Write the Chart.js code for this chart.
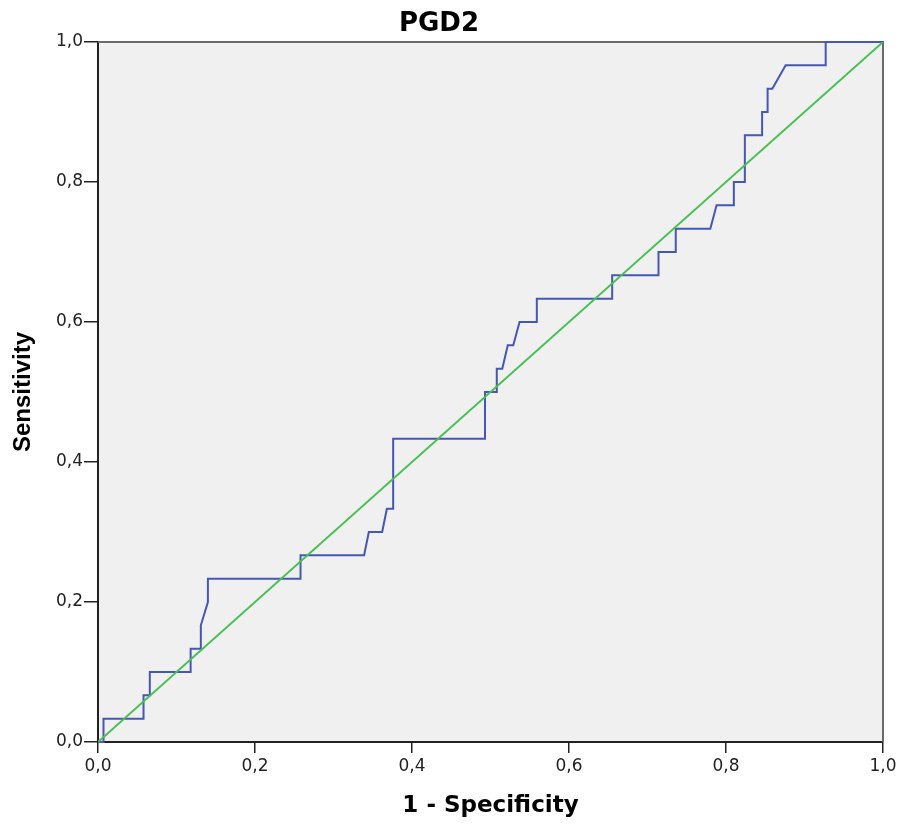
<!DOCTYPE html>
<html>
<head>
<meta charset="utf-8">
<title>PGD2</title>
<script src="https://cdn.jsdelivr.net/npm/chart.js@4.4.1/dist/chart.umd.min.js"></script>
<style>
  html, body { margin: 0; padding: 0; background: #fff; }
  #roc { display: block; }
</style>
</head>
<body>
<canvas id="roc" width="901" height="825"></canvas>
<script>
// ROC curve, PGD2: 1 - specificity (x) against sensitivity (y)
const fpr = [0, 0.007, 0.007, 0.058, 0.058, 0.066, 0.066, 0.118, 0.118, 0.131, 0.131, 0.140, 0.140,
    0.258, 0.258, 0.339, 0.345, 0.362, 0.368, 0.376, 0.376, 0.493, 0.493, 0.508, 0.508, 0.515,
    0.522, 0.529, 0.537, 0.559, 0.559, 0.655, 0.655, 0.714, 0.714, 0.736, 0.736, 0.780, 0.788,
    0.810, 0.810, 0.824, 0.824, 0.846, 0.846, 0.853, 0.853, 0.859, 0.876, 0.927, 0.927, 1];
const tpr = [0, 0, 0.0333, 0.0333, 0.0667, 0.0667, 0.1, 0.1, 0.1333, 0.1333, 0.1667, 0.2, 0.2333,
    0.2333, 0.2667, 0.2667, 0.3, 0.3, 0.3333, 0.3333, 0.4333, 0.4333, 0.5, 0.5, 0.5333, 0.5333,
    0.5667, 0.5667, 0.6, 0.6, 0.6333, 0.6333, 0.6667, 0.6667, 0.7, 0.7, 0.7333, 0.7333, 0.7667,
    0.7667, 0.8, 0.8, 0.8667, 0.8667, 0.9, 0.9, 0.9333, 0.9333, 0.9667, 0.9667, 1, 1];

// chance line
const diagX = [0, 1];
const diagY = [0, 1];

const tickValues = [0, 0.2, 0.4, 0.6, 0.8, 1.0];
const chartTitle = 'PGD2';
const xTitle = '1 - Specificity';
const yTitle = 'Sensitivity';

const toPoints = (xs, ys) => xs.map((x, i) => ({ x: x, y: ys[i] }));
const fmt = v => Number(v).toFixed(1).replace('.', ',');

// grey plot background + top/right frame
const plotFrame = {
    id: 'plotFrame',
    beforeDraw(chart) {
        const { ctx, chartArea: a } = chart;
        ctx.save();
        ctx.fillStyle = '#f0f0f0';
        ctx.fillRect(a.left, a.top, a.right - a.left, a.bottom - a.top);
        ctx.restore();
    },
    beforeDatasetsDraw(chart) {
        const { ctx, chartArea: a } = chart;
        ctx.save();
        ctx.strokeStyle = '#6a6a6a';
        ctx.lineWidth = 2;
        ctx.beginPath();
        ctx.moveTo(a.left, a.top);
        ctx.lineTo(a.right, a.top);
        ctx.lineTo(a.right, a.bottom);
        ctx.stroke();
        ctx.restore();
    }
};

// heading sits a bit left of the plot centre
const heading = {
    id: 'heading',
    afterDraw(chart) {
        const { ctx } = chart;
        ctx.save();
        ctx.font = 'bold 26px "DejaVu Sans"';
        ctx.fillStyle = '#000';
        ctx.textAlign = 'center';
        ctx.textBaseline = 'middle';
        ctx.fillText(chartTitle, 439, 24);
        ctx.restore();
    }
};

const tickFont = { family: 'DejaVu Sans', size: 17 };

new Chart(document.getElementById('roc'), {
    type: 'line',
    data: {
        datasets: [
            {
                label: 'Reference',
                data: toPoints(diagX, diagY),
                borderColor: '#47c052',
                borderWidth: 2,
                pointRadius: 0,
                order: 0
            },
            {
                label: 'PGD2',
                data: toPoints(fpr, tpr),
                borderColor: '#4657b3',
                borderWidth: 2,
                pointRadius: 0,
                tension: 0,
                clip: false,
                order: 1
            }
        ]
    },
    options: {
        responsive: false,
        animation: false,
        layout: { padding: { top: 42, right: 18, bottom: 0, left: 0 } },
        plugins: {
            legend: { display: false },
            tooltip: { enabled: false }
        },
        scales: {
            x: {
                type: 'linear',
                min: 0,
                max: 1,
                afterBuildTicks: s => { s.ticks = tickValues.map(v => ({ value: v })); },
                afterFit: s => { s.height = 83; },
                ticks: { font: tickFont, color: '#222', padding: 3, callback: fmt, maxRotation: 0 },
                grid: { drawOnChartArea: false, drawTicks: true, tickLength: 11, color: '#222', lineWidth: 1.5 },
                border: { color: '#222', width: 2 },
                title: {
                    display: true,
                    text: xTitle,
                    color: '#000',
                    font: { family: 'DejaVu Sans', size: 23, weight: 'bold' },
                    padding: { top: 0, bottom: 5 }
                }
            },
            y: {
                type: 'linear',
                min: 0,
                max: 1,
                afterBuildTicks: s => { s.ticks = tickValues.map(v => ({ value: v })); },
                afterFit: s => { s.width = 98; },
                ticks: { font: tickFont, color: '#222', padding: 1, callback: fmt },
                grid: { drawOnChartArea: false, drawTicks: true, tickLength: 14, color: '#222', lineWidth: 1.5 },
                border: { color: '#222', width: 2 },
                title: {
                    display: true,
                    text: yTitle,
                    color: '#000',
                    font: { family: 'Liberation Sans', size: 24, weight: 'bold' },
                    padding: { top: 9, bottom: 0 }
                }
            }
        }
    },
    plugins: [plotFrame, heading]
});
</script>
</body>
</html>
